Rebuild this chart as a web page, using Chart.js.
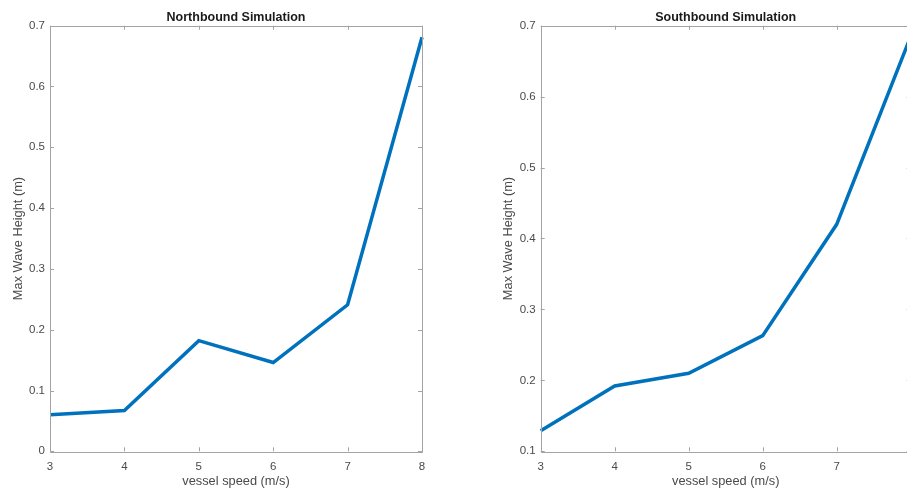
<!DOCTYPE html>
<html>
<head>
<meta charset="utf-8">
<script src="https://cdn.jsdelivr.net/npm/chart.js@4/dist/chart.umd.min.js"></script>
<style>
  html, body { margin: 0; padding: 0; background: #fff; overflow: hidden; width: 907px; height: 490px; }
  .wrap { position: absolute; top: 0; height: 490px; }
  #w1 { left: 0; width: 460px; }
  #w2 { left: 490px; width: 450px; }
</style>
</head>
<body>
<div class="wrap" id="w1"><canvas id="c1"></canvas></div>
<div class="wrap" id="w2"><canvas id="c2"></canvas></div>
<script>
// Data
const speeds = [3, 4, 5, 6, 7, 8];
const northbound = [0.060, 0.067, 0.182, 0.146, 0.241, 0.681];
const southbound = [0.129, 0.192, 0.210, 0.263, 0.420, 0.685];
const titles = ['Northbound Simulation', 'Southbound Simulation'];
const xLabel = 'vessel speed (m/s)';
const yLabel = 'Max Wave Height (m)';

const AXIS = '#a3a3a3';
const TXT = '#4a4a4a';
const FONT = '"Liberation Sans", Arial, sans-serif';

const boxTicks = {
  id: 'boxTicks',
  afterDatasetsDraw(chart) {
    const {ctx, chartArea: a, scales} = chart;
    const L = 4;
    ctx.save();
    ctx.strokeStyle = AXIS;
    ctx.lineWidth = 1;
    ctx.beginPath();
    ctx.rect(Math.round(a.left) + 0.5, Math.round(a.top) + 0.5, Math.round(a.right - a.left), Math.round(a.bottom - a.top));
    scales.x.ticks.forEach(t => {
      const x = Math.round(scales.x.getPixelForValue(t.value)) + 0.5;
      ctx.moveTo(x, a.bottom); ctx.lineTo(x, a.bottom - L);
      ctx.moveTo(x, a.top); ctx.lineTo(x, a.top + L);
    });
    scales.y.ticks.forEach(t => {
      const y = Math.round(scales.y.getPixelForValue(t.value)) + 0.5;
      ctx.moveTo(a.left, y); ctx.lineTo(a.left + L, y);
      ctx.moveTo(a.right, y); ctx.lineTo(a.right - L, y);
    });
    ctx.stroke();
    ctx.restore();
  }
};

function makeChart(id, data, title, yMin, yW, padRight) {
  return new Chart(document.getElementById(id), {
    type: 'line',
    data: {
      datasets: [{
        data: speeds.map((s, i) => ({x: s, y: data[i]})),
        borderColor: '#0072BD',
        borderWidth: 3.5,
        pointRadius: 0,
        tension: 0,
        fill: false,
        clip: false
      }]
    },
    options: {
      responsive: true,
      maintainAspectRatio: false,
      animation: false,
      layout: { padding: { left: 0, right: padRight, top: 0, bottom: 0 } },
      plugins: {
        legend: { display: false },
        tooltip: { enabled: false },
        title: {
          display: true,
          text: title,
          fullSize: false,
          color: '#1a1a1a',
          font: { family: FONT, size: 12.5, weight: 'bold' },
          padding: { top: 9.7, bottom: 1 }
        }
      },
      scales: {
        x: {
          type: 'linear',
          min: 3, max: 8,
          afterFit(s) { s.height = 38.7; },
          grid: { display: false, drawTicks: false },
          border: { display: false },
          ticks: { stepSize: 1, color: TXT, font: { family: FONT, size: 11.5 }, padding: 9, maxRotation: 0 },
          title: { display: true, text: xLabel, color: TXT, font: { family: FONT, size: 12.8 }, padding: { top: 0, bottom: 0.5 } }
        },
        y: {
          type: 'linear',
          min: yMin, max: 0.7,
          afterFit(s) { s.width = yW; },
          grid: { display: false, drawTicks: false },
          border: { display: false },
          ticks: { stepSize: 0.1, color: TXT, font: { family: FONT, size: 11.5 }, padding: 5 },
          title: { display: true, text: yLabel, color: TXT, font: { family: FONT, size: 12.8 }, padding: { top: 11, bottom: 0 } }
        }
      }
    },
    plugins: [boxTicks]
  });
}

makeChart('c1', northbound, titles[0], 0, 50, 38);
makeChart('c2', southbound, titles[1], 0.1, 50.7, 29.3);
</script>
</body>
</html>
